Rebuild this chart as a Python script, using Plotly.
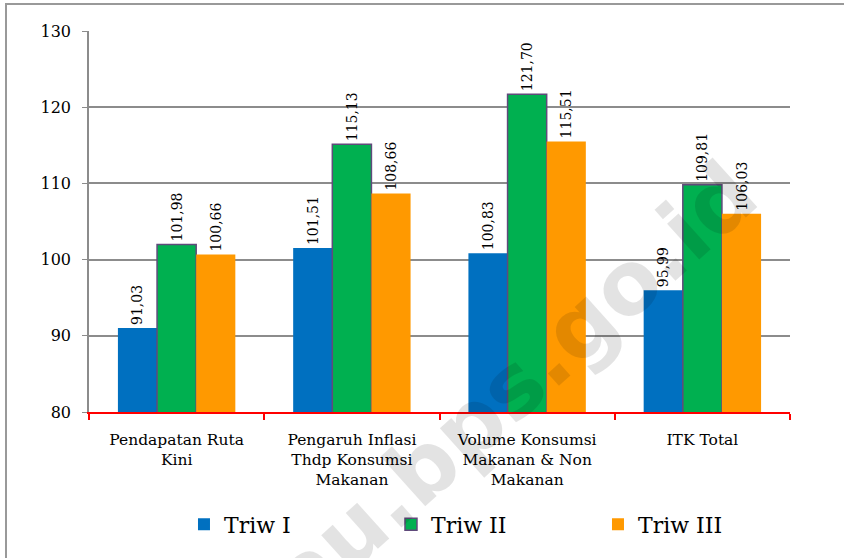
import plotly.graph_objects as go

categories = ["Pendapatan Ruta<br>Kini",
              "Pengaruh Inflasi<br>Thdp Konsumsi<br>Makanan",
              "Volume Konsumsi<br>Makanan & Non<br>Makanan",
              "ITK Total"]
triw_1 = [91.03, 101.51, 100.83, 95.99]
triw_2 = [101.98, 115.13, 121.70, 109.81]
triw_3 = [100.66, 108.66, 115.51, 106.03]

serif = "DejaVu Serif, Liberation Serif, serif"

fig = go.Figure()
fig.add_trace(go.Bar(name="Triw I", x=categories, y=triw_1, marker_color="#0070C0",
                     marker_line_width=0))
fig.add_trace(go.Bar(name="Triw II", x=categories, y=triw_2, marker_color="#00B050",
                     marker_line=dict(color="#604A7B", width=1.5)))
fig.add_trace(go.Bar(name="Triw III", x=categories, y=triw_3, marker_color="#FF9900",
                     marker_line_width=0))
fig.update_traces(texttemplate="%{y:.2f}", textposition="outside", textangle=-90,
                  constraintext="none",
                  textfont=dict(family=serif, size=14, color="black"),
                  cliponaxis=False)

# watermark
fig.add_annotation(text="riau.bps.go.id", xref="paper", yref="paper",
                   x=0.566, y=0.005, xanchor="center", yanchor="middle",
                   showarrow=False, textangle=-42,
                   font=dict(family="DejaVu Sans", size=88, color="rgba(0,0,0,0.11)",
                             weight="bold"))

# outer frame
fig.add_shape(type="rect", xref="paper", yref="paper",
              x0=(6 - 89) / 701, x1=1.2, y0=-0.5, y1=(412 - 4) / 381,
              line=dict(color="#999999", width=2), layer="below")

fig.update_layout(
    width=844, height=558,
    margin=dict(l=89, r=54, t=31, b=146),
    plot_bgcolor="white", paper_bgcolor="white",
    separators=",.",
    barmode="group", bargap=0.33, bargroupgap=0,
    font=dict(family=serif, color="black"),
    showlegend=True,
    legend=dict(orientation="h", x=0.1355, xanchor="left", y=-0.295, yanchor="middle",
                font=dict(family=serif, size=22), entrywidth=162, traceorder="normal"),
    xaxis=dict(showline=True, linecolor="red", linewidth=2, ticks="outside",
               tickson="boundaries", tickcolor="red", ticklen=6, tickwidth=2,
               ticklabelstandoff=12,
               tickfont=dict(family=serif, size=15.5)),
    yaxis=dict(range=[80, 130], dtick=10, showgrid=True, gridcolor="#8C8C8C", gridwidth=1.5,
               showline=True, linecolor="#8C8C8C", linewidth=1.5, ticks="outside",
               tickcolor="#8C8C8C", ticklen=5, zeroline=False, ticklabelstandoff=8,
               tickfont=dict(family=serif, size=16)),
)

fig.write_html("out.html", config={"displayModeBar": False},
               post_script="document.body.style.margin='0';")
